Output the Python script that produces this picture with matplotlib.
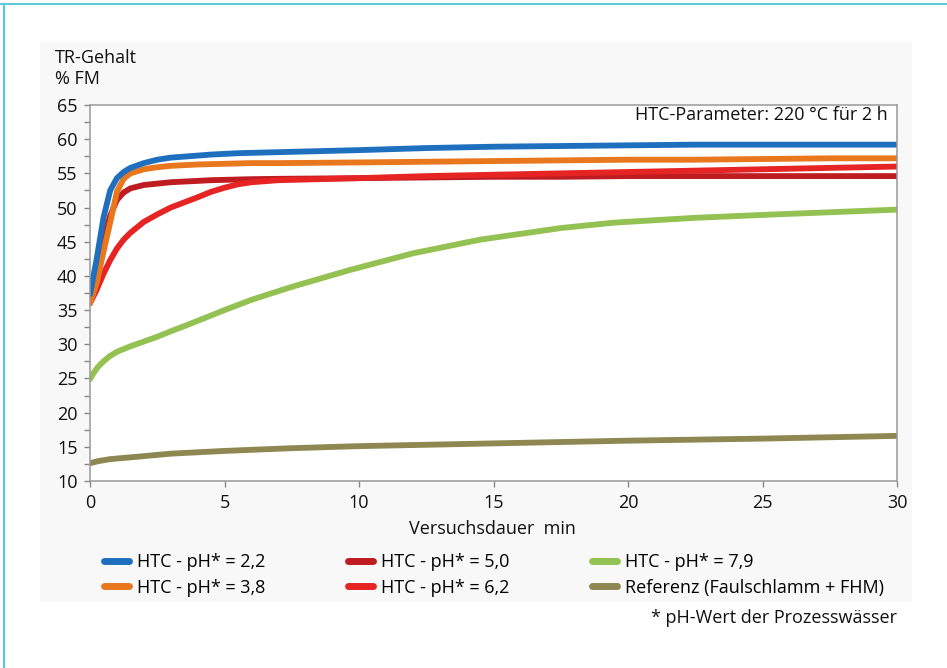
import matplotlib
matplotlib.use("Agg")
import matplotlib.pyplot as plt
from matplotlib.patches import Rectangle
from matplotlib.lines import Line2D
from matplotlib.ticker import MultipleLocator

plt.rcParams['font.family'] = ['Open Sans', 'DejaVu Sans']

# ---- data ----
t_fast = [0, 0.25, 0.5, 0.75, 1, 1.25, 1.5, 2, 2.5, 3, 4, 4.5, 5, 5.5, 6, 7, 8.5, 10, 12.5, 15, 17.5, 20, 22.5, 25, 27.5, 30]
ph22 = [37.3, 42.5, 48.5, 52.5, 54.3, 55.2, 55.8, 56.5, 57.0, 57.3, 57.6, 57.75, 57.85, 57.95, 58.0, 58.1, 58.25, 58.4, 58.7, 58.9, 59.0, 59.1, 59.2, 59.2, 59.2, 59.2]
ph38 = [36.0, 39.0, 43.5, 47.8, 52.3, 54.2, 55.0, 55.6, 55.9, 56.1, 56.3, 56.35, 56.4, 56.45, 56.5, 56.5, 56.55, 56.6, 56.7, 56.8, 56.9, 57.0, 57.0, 57.1, 57.2, 57.2]
ph50 = [37.0, 40.5, 45.5, 48.8, 51.1, 52.2, 52.8, 53.3, 53.5, 53.7, 53.9, 54.0, 54.05, 54.1, 54.15, 54.2, 54.25, 54.3, 54.4, 54.5, 54.5, 54.6, 54.6, 54.6, 54.6, 54.6]
ph62 = [36.0, 38.0, 40.3, 42.3, 44.0, 45.3, 46.3, 47.9, 49.0, 50.0, 51.5, 52.3, 52.9, 53.4, 53.7, 54.0, 54.15, 54.3, 54.6, 54.8, 55.0, 55.2, 55.4, 55.6, 55.8, 56.0]
t_ph79 = [0, 0.15, 0.3, 0.5, 0.75, 1, 1.5, 2, 2.5, 3, 3.6, 5, 6, 7.5, 9.6, 12, 14.5, 17.5, 19.5, 22.5, 25.5, 30]
ph79 = [24.9, 25.9, 26.7, 27.5, 28.3, 28.9, 29.7, 30.4, 31.1, 31.9, 32.8, 35.0, 36.5, 38.4, 40.8, 43.3, 45.3, 47.0, 47.8, 48.5, 49.0, 49.7]
t_ref = [0, 0.3, 0.75, 1.9, 3, 5, 7.5, 10, 15, 20, 25, 30]
ref = [12.6, 12.9, 13.2, 13.6, 14.0, 14.4, 14.8, 15.1, 15.5, 15.9, 16.2, 16.6]

labels = ["HTC - pH* = 2,2", "HTC - pH* = 3,8", "HTC - pH* = 5,0",
          "HTC - pH* = 6,2", "HTC - pH* = 7,9", "Referenz (Faulschlamm + FHM)"]
colors = ["#1f6fbf", "#e8771e", "#bf1c22", "#e52423", "#93c152", "#8e8752"]

x_ticks = [0, 5, 10, 15, 20, 25, 30]
y_ticks = [10, 15, 20, 25, 30, 35, 40, 45, 50, 55, 60, 65]

FS = 13
W, H = 947, 668
fig = plt.figure(figsize=(W / 100, H / 100), dpi=100)

# background panel and cyan frame
fig.patches.append(Rectangle((40 / W, 1 - 602 / H), 872 / W, 560 / H,
                             transform=fig.transFigure, facecolor="#f8f8f8",
                             edgecolor="none", zorder=-5))
fig.add_artist(Line2D([0, 1], [1 - 3.5 / H, 1 - 3.5 / H], transform=fig.transFigure,
                      color="#5cc8d8", lw=1.5))
fig.add_artist(Line2D([4 / W, 4 / W], [0, 1 - 3.5 / H], transform=fig.transFigure,
                      color="#5cc8d8", lw=1.5))

ax = fig.add_axes([90 / W, 1 - 481 / H, 807 / W, 376 / H])
ax.set_zorder(2)
ax.set_facecolor("white")
ax.set_xlim(0, 30)
ax.set_ylim(10, 65)

lw = 4.2
kw = dict(lw=lw, solid_capstyle="round", solid_joinstyle="round")
ax.plot(t_ref, ref, color=colors[5], **kw)
ax.plot(t_ph79, ph79, color=colors[4], **kw)
ax.plot(t_fast, ph50, color=colors[2], **kw)
ax.plot(t_fast, ph62, color=colors[3], **kw)
ax.plot(t_fast, ph38, color=colors[1], **kw)
ax.plot(t_fast, ph22, color=colors[0], **kw)

ax.set_xticks(x_ticks)
ax.set_yticks(y_ticks)
ax.yaxis.set_minor_locator(MultipleLocator(2.5))
ax.tick_params(axis="both", which="both", direction="out", color="#888888",
               length=4, width=1, labelsize=FS, labelcolor="#111111")
ax.tick_params(axis="y", pad=5)
ax.tick_params(axis="x", pad=5)
for s in ax.spines.values():
    s.set_color("#999999")
    s.set_linewidth(1.1)

fig.text(888 / W, 1 - 115 / H, "HTC-Parameter: 220 °C für 2 h",
         ha="right", va="center", fontsize=FS, color="#111111", zorder=5)

fig.text(55 / W, 1 - 58 / H, "TR-Gehalt", ha="left", va="center", fontsize=FS, color="#111111")
fig.text(55 / W, 1 - 79 / H, "% FM", ha="left", va="center", fontsize=FS, color="#111111")
fig.text(492 / W, 1 - 529 / H, "Versuchsdauer  min", ha="center", va="center",
         fontsize=FS, color="#111111")

handles = [Line2D([0], [0], color=c, lw=5, solid_capstyle="round") for c in colors]
leg = fig.legend(handles, labels, ncol=3, loc="upper left",
                 bbox_to_anchor=(104 / W, 1 - 553 / H), frameon=False,
                 fontsize=FS, handlelength=1.4, handletextpad=0.45,
                 columnspacing=4.55, labelspacing=0.42, borderaxespad=0, borderpad=0)

fig.text(897 / W, 1 - 618 / H, "* pH-Wert der Prozesswässer", ha="right", va="center",
         fontsize=FS, color="#111111")

fig.savefig("out.png", dpi=100)
